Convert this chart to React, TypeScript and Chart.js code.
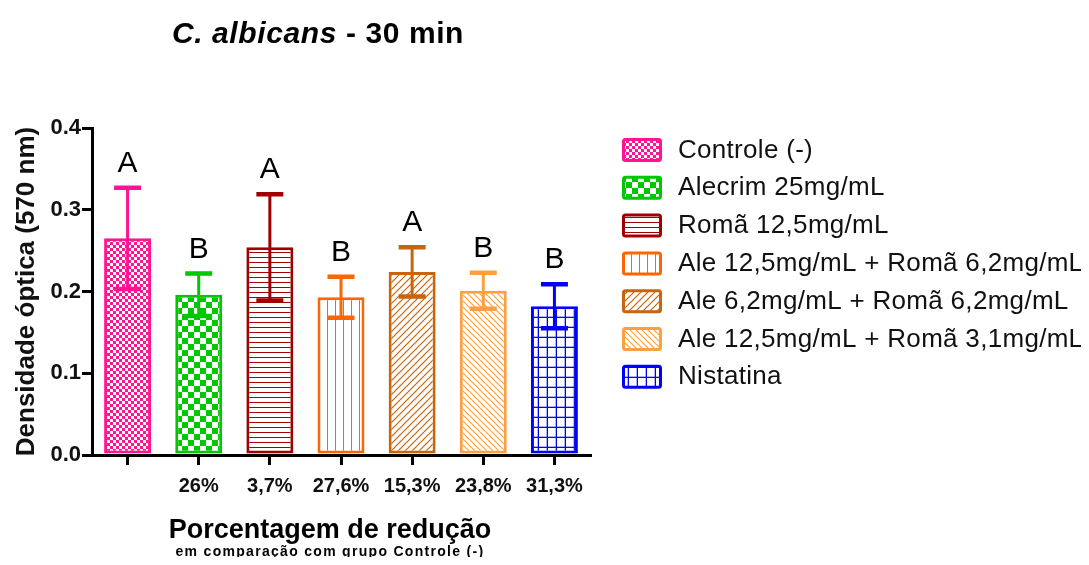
import React, { useEffect, useRef } from 'react';
import { Chart, registerables } from 'chart.js';

Chart.register(...registerables);

// ---- data ----
const groups = [
  'Controle (-)',
  'Alecrim 25mg/mL',
  'Romã 12,5mg/mL',
  'Ale 12,5mg/mL + Romã 6,2mg/mL',
  'Ale 6,2mg/mL + Romã 6,2mg/mL',
  'Ale 12,5mg/mL + Romã 3,1mg/mL',
  'Nistatina',
];
const reductionLabels = ['', '26%', '3,7%', '27,6%', '15,3%', '23,8%', '31,3%'];
const means = [0.265, 0.196, 0.254, 0.193, 0.224, 0.201, 0.182];
const errors = [0.062, 0.026, 0.065, 0.025, 0.030, 0.022, 0.027];
const letters = ['A', 'B', 'A', 'B', 'A', 'B', 'B'];
const yTicks = [0, 0.1, 0.2, 0.3, 0.4];
const colors = ['#FF1493', '#00C800', '#A00000', '#FF6600', '#C8640A', '#FFA040', '#0000FF'];
const patternKinds = ['fineChecker', 'checker', 'hLines', 'vLines', 'diagUp', 'diagDown', 'grid'];

const titleItalic = 'C. albicans';
const titleRest = ' - 30 min';
const xTitle = 'Porcentagem de redução';
const xSubtitle = 'em comparação com grupo Controle (-)';
const yTitle = 'Densidade óptica (570 nm)';

const FONT = '"Liberation Sans", Arial, sans-serif';

function makePattern(kind: string, color: string): CanvasPattern | string {
  const c = document.createElement('canvas');
  let w = 8, h = 8;
  if (kind === 'fineChecker') { w = 6; h = 6; }
  if (kind === 'checker') { w = 12; h = 12; }
  if (kind === 'hLines') { w = 5; h = 5; }
  if (kind === 'vLines') { w = 8; h = 8; }
  if (kind === 'diagUp') { w = 7; h = 7; }
  if (kind === 'diagDown') { w = 6; h = 6; }
  if (kind === 'grid') { w = 9; h = 10; }
  c.width = w; c.height = h;
  const g = c.getContext('2d');
  if (!g) return color;
  g.fillStyle = '#ffffff';
  g.fillRect(0, 0, w, h);
  g.fillStyle = color;
  g.strokeStyle = color;
  switch (kind) {
    case 'fineChecker':
      g.fillRect(0, 0, 3, 3);
      g.fillRect(3, 3, 3, 3);
      break;
    case 'checker':
      g.fillRect(0, 0, 6, 6);
      g.fillRect(6, 6, 6, 6);
      break;
    case 'hLines':
      g.fillRect(0, 4, w, 1.2);
      break;
    case 'vLines':
      g.fillRect(7, 0, 1.2, h);
      break;
    case 'diagUp':
      g.lineWidth = 1.2;
      g.beginPath();
      g.moveTo(0, h); g.lineTo(w, 0);
      g.moveTo(-1, 1); g.lineTo(1, -1);
      g.moveTo(w - 1, h + 1); g.lineTo(w + 1, h - 1);
      g.stroke();
      break;
    case 'diagDown':
      g.lineWidth = 1.2;
      g.beginPath();
      g.moveTo(0, 0); g.lineTo(w, h);
      g.moveTo(-1, h - 1); g.lineTo(1, h + 1);
      g.moveTo(w - 1, -1); g.lineTo(w + 1, 1);
      g.stroke();
      break;
    case 'grid':
      g.fillRect(w - 1.3, 0, 1.3, h);
      g.fillRect(0, h - 1.3, w, 1.3);
      break;
  }
  const p = g.createPattern(c, 'repeat');
  return p || color;
}

export default function App() {
  const ref = useRef<HTMLCanvasElement | null>(null);

  useEffect(() => {
    if (!ref.current) return;
    const patterns = patternKinds.map((k, i) => makePattern(k, colors[i]));

    const errorBarPlugin = {
      id: 'errorBars',
      afterDatasetsDraw(chart: any) {
        const { ctx } = chart;
        const meta = chart.getDatasetMeta(0);
        const ys = chart.scales.y;
        ctx.save();
        meta.data.forEach((bar: any, i: number) => {
          const x = bar.x;
          const top = ys.getPixelForValue(means[i] + errors[i]);
          const bot = ys.getPixelForValue(means[i] - errors[i]);
          ctx.strokeStyle = colors[i];
          ctx.lineWidth = 3;
          ctx.beginPath();
          ctx.moveTo(x, top);
          ctx.lineTo(x, bot);
          ctx.stroke();
          ctx.lineWidth = 4.5;
          ctx.lineCap = 'butt';
          ctx.beginPath();
          ctx.moveTo(x - 13.5, top); ctx.lineTo(x + 13.5, top);
          ctx.moveTo(x - 13.5, bot); ctx.lineTo(x + 13.5, bot);
          ctx.stroke();
          // significance letter
          ctx.fillStyle = '#000';
          ctx.font = `30px ${FONT}`;
          ctx.textAlign = 'center';
          ctx.textBaseline = 'alphabetic';
          ctx.fillText(letters[i], x, top - 16);
        });
        ctx.restore();
      },
    };

    const textPlugin = {
      id: 'extraText',
      afterDraw(chart: any) {
        const { ctx, chartArea } = chart;
        ctx.save();
        ctx.fillStyle = '#000';
        ctx.textBaseline = 'alphabetic';
        // main title
        (ctx as any).letterSpacing = '0.6px';
        ctx.font = `italic bold 30px ${FONT}`;
        const w1 = ctx.measureText(titleItalic).width;
        ctx.font = `bold 30px ${FONT}`;
        const w2 = ctx.measureText(titleRest).width;
        const cx = (chartArea.left + chartArea.right) / 2 - 23;
        const startX = cx - (w1 + w2) / 2;
        ctx.textAlign = 'left';
        ctx.font = `italic bold 30px ${FONT}`;
        ctx.fillText(titleItalic, startX, 35);
        ctx.font = `bold 30px ${FONT}`;
        ctx.fillText(titleRest, startX + w1, 35);
        // x titles
        const xc = (chartArea.left + chartArea.right) / 2 - 11;
        ctx.textAlign = 'center';
        (ctx as any).letterSpacing = '0px';
        ctx.font = `bold 27px ${FONT}`;
        ctx.fillText(xTitle, xc, chartArea.bottom + 83);
        ctx.font = `bold 14px ${FONT}`;
        (ctx as any).letterSpacing = '1.3px';
        ctx.fillText(xSubtitle, xc, chartArea.bottom + 101);

        // legend
        const lx = chartArea.right + 32;
        let ly = chartArea.top + 10;
        (ctx as any).letterSpacing = '0.3px';
        ctx.font = `26px ${FONT}`;
        ctx.textAlign = 'left';
        ctx.textBaseline = 'middle';
        groups.forEach((g, i) => {
          ctx.fillStyle = patterns[i];
          ctx.strokeStyle = colors[i];
          ctx.lineWidth = 3;
          ctx.beginPath();
          (ctx as any).roundRect(lx + 1.5, ly + 1.5, 37, 21, 2);
          ctx.fill();
          ctx.stroke();
          ctx.fillStyle = '#111';
          ctx.fillText(g, lx + 56, ly + 12.5);
          ly += 37.8;
        });
        (ctx as any).letterSpacing = '0px';
        ctx.restore();
      },
    };

    const chart = new Chart(ref.current, {
      type: 'bar',
      data: {
        labels: reductionLabels,
        datasets: [
          {
            label: 'Densidade óptica',
            data: means,
            backgroundColor: patterns as any,
            borderColor: colors,
            borderWidth: 3,
            borderSkipped: false,
            barPercentage: 0.66,
            categoryPercentage: 1,
          },
        ],
      },
      options: {
        responsive: false,
        animation: false,
        layout: { padding: { top: 120, right: 491, bottom: 70, left: 0 } },
        plugins: {
          legend: { display: false },
          title: { display: false },
          tooltip: { enabled: false },
        },
        scales: {
          x: {
            offset: true,
            grid: {
              offset: false,
              drawOnChartArea: false,
              drawTicks: true,
              tickLength: 10,
              color: '#000',
              lineWidth: 3,
            },
            border: { display: true, color: '#000', width: 3 },
            ticks: {
              color: '#111',
              font: { family: FONT, size: 20, weight: 'bold' },
              padding: 9,
              autoSkip: false,
              maxRotation: 0,
            },
            afterFit: (s: any) => { s.height = 40; },
          },
          y: {
            min: 0,
            max: 0.4,
            afterBuildTicks: (s: any) => { s.ticks = yTicks.map((v) => ({ value: v })); },
            grid: {
              drawOnChartArea: false,
              drawTicks: true,
              tickLength: 10,
              color: '#000',
              lineWidth: 3,
            },
            border: { display: true, color: '#000', width: 3 },
            ticks: {
              color: '#111',
              font: { family: FONT, size: 22, weight: 'bold' },
              padding: 1,
              callback: (v: any) => Number(v).toFixed(1),
            },
            title: {
              display: true,
              text: yTitle,
              color: '#111',
              font: { family: FONT, size: 26, weight: 'bold', lineHeight: 1 },
              padding: { top: 6, bottom: 0 },
            },
            afterFit: (s: any) => { s.width = 84; },
          },
        },
      },
      plugins: [errorBarPlugin, textPlugin],
    });
    return () => chart.destroy();
  }, []);

  return (
    <div style={{ width: 1073, height: 557, marginBottom: -8, overflow: 'hidden' }}>
      <canvas ref={ref} width={1073} height={557} style={{ display: 'block' }} />
    </div>
  );
}
